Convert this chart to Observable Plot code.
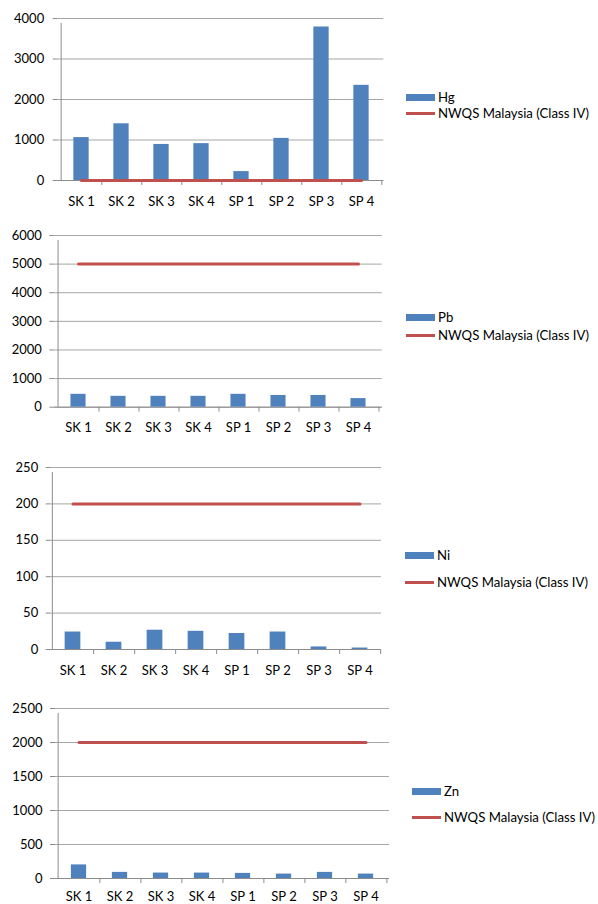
<!DOCTYPE html>
<html>
<head>
<meta charset="utf-8">
<script src="https://cdn.jsdelivr.net/npm/d3@7"></script>
<script src="https://cdn.jsdelivr.net/npm/@observablehq/plot@0.6"></script>
<style>
  html, body { margin: 0; padding: 0; background: #fff; }
  #page { position: relative; width: 598px; height: 904px; overflow: hidden; font-family: Lato, "Open Sans", sans-serif; }
  .panel { position: absolute; left: 0; }
  .legend { position: absolute; font-size: 13.2px; color: #000; }
  .legend .row { position: absolute; left: 0; white-space: nowrap; display: flex; align-items: center; height: 16px; }
  .legend .sw { width: 29px; margin-right: 3px; }
  .legend .bar { height: 7px; background: #4F81BD; }
  .legend .ln { height: 3px; background: #C0504D; }
</style>
</head>
<body>
<div id="page"></div>
<script>
// Sampling sites
const sites = ["SK 1", "SK 2", "SK 3", "SK 4", "SP 1", "SP 2", "SP 3", "SP 4"];

// Measured concentrations per metal
const hgValues = [1060, 1400, 890, 910, 220, 1040, 3790, 2350];
const pbValues = [450, 380, 380, 380, 450, 410, 410, 300];
const niValues = [24, 10, 26.5, 25, 22, 24, 3.5, 2];
const znValues = [200, 90, 80, 80, 75, 65, 90, 65];

// NWQS Malaysia (Class IV) limits
const hgLimit = 2;
const pbLimit = 5000;
const niLimit = 200;
const znLimit = 2000;

// Y-axis tick labels
const hgTicks = [0, 1000, 2000, 3000, 4000];
const pbTicks = [0, 1000, 2000, 3000, 4000, 5000, 6000];
const niTicks = [0, 50, 100, 150, 200, 250];
const znTicks = [0, 500, 1000, 1500, 2000, 2500];

const metalName = ["Hg", "Pb", "Ni", "Zn"];
const limitLabel = "NWQS Malaysia (Class IV)";

const BLUE = "#4F81BD";
const RED = "#C0504D";
const AXIS = "#8C8C8C";
const GRID = "#A6A6A6";
const W = 598;

// Layout for each panel: plot frame edges in page pixels, plus legend placement
const layout = [
  {left: 57.7, right: 383.3, top: 18.3, bottom: 180.3, tickPad: 9, xPad: 16, legend: {x: 406, y1: 97, y2: 113}},
  {left: 54.3, right: 381.7, top: 235, bottom: 406.7, tickPad: 8, xPad: 16, legend: {x: 406, y1: 317, y2: 335}},
  {left: 50.7, right: 381, top: 467.3, bottom: 649.3, tickPad: 8, xPad: 16, legend: {x: 405, y1: 555, y2: 582}},
  {left: 55, right: 389, top: 708.3, bottom: 878.3, tickPad: 8, xPad: 13, legend: {x: 412, y1: 791, y2: 817}}
];

const series = [
  {values: hgValues, limit: hgLimit, ticks: hgTicks},
  {values: pbValues, limit: pbLimit, ticks: pbTicks},
  {values: niValues, limit: niLimit, ticks: niTicks},
  {values: znValues, limit: znLimit, ticks: znTicks}
];

const page = document.getElementById("page");

series.forEach((s, i) => {
  const L = layout[i];
  const mTop = 12, mBottom = 32;
  const data = sites.map((site, j) => ({site, value: s.values[j], limit: s.limit}));
  const yMax = s.ticks[s.ticks.length - 1];
  const bw = (L.right - L.left) / sites.length;
  const barInset = (bw - 16) / 2;

  const chart = Plot.plot({
    width: W,
    height: mTop + (L.bottom - L.top) + mBottom,
    marginLeft: L.left,
    marginRight: W - L.right,
    marginTop: mTop,
    marginBottom: mBottom,
    style: {fontFamily: "Lato, 'Open Sans', sans-serif", fontSize: "13px", color: "#000", background: "transparent"},
    x: {type: "band", domain: sites, padding: 0, label: null},
    y: {domain: [0, yMax], label: null},
    marks: [
      // horizontal gridlines
      Plot.ruleY(s.ticks, {stroke: GRID, strokeWidth: 1}),
      // value axis
      Plot.axisY({ticks: s.ticks, tickSize: 5, tickPadding: L.tickPad, stroke: AXIS, fill: "#000", tickFormat: d => String(d), label: null}),
      // category axis labels
      Plot.axisX({tickSize: 0, tickPadding: L.xPad, fill: "#000", label: null}),
      // vertical axis line
      Plot.ruleX([sites[0]], {x: d => d, dx: -bw / 2, y1: 0, y2: yMax, insetBottom: -5, stroke: AXIS}),
      // category boundary ticks
      Plot.ruleX(sites, {x: d => d, dx: bw / 2, y1: 0, y2: 0, insetBottom: -5, stroke: AXIS}),
      // baseline
      Plot.ruleY([0], {stroke: AXIS}),
      // bars
      Plot.barY(data, {x: "site", y: "value", fill: BLUE, insetLeft: barInset, insetRight: barInset}),
      // limit line
      Plot.lineY(data, {x: "site", y: "limit", stroke: RED, strokeWidth: 3})
    ]
  });

  const wrap = document.createElement("div");
  wrap.className = "panel";
  wrap.style.top = (L.top - mTop) + "px";
  wrap.appendChild(chart);
  page.appendChild(wrap);

  // legend
  const lg = document.createElement("div");
  lg.className = "legend";
  lg.style.left = L.legend.x + "px";
  lg.style.top = "0px";
  const r1 = document.createElement("div");
  r1.className = "row";
  r1.style.top = (L.legend.y1 - 8) + "px";
  r1.innerHTML = `<div class="sw bar"></div><span>${metalName[i]}</span>`;
  const r2 = document.createElement("div");
  r2.className = "row";
  r2.style.top = (L.legend.y2 - 8) + "px";
  r2.innerHTML = `<div class="sw ln"></div><span>${limitLabel}</span>`;
  lg.appendChild(r1);
  lg.appendChild(r2);
  page.appendChild(lg);
});
</script>
</body>
</html>
